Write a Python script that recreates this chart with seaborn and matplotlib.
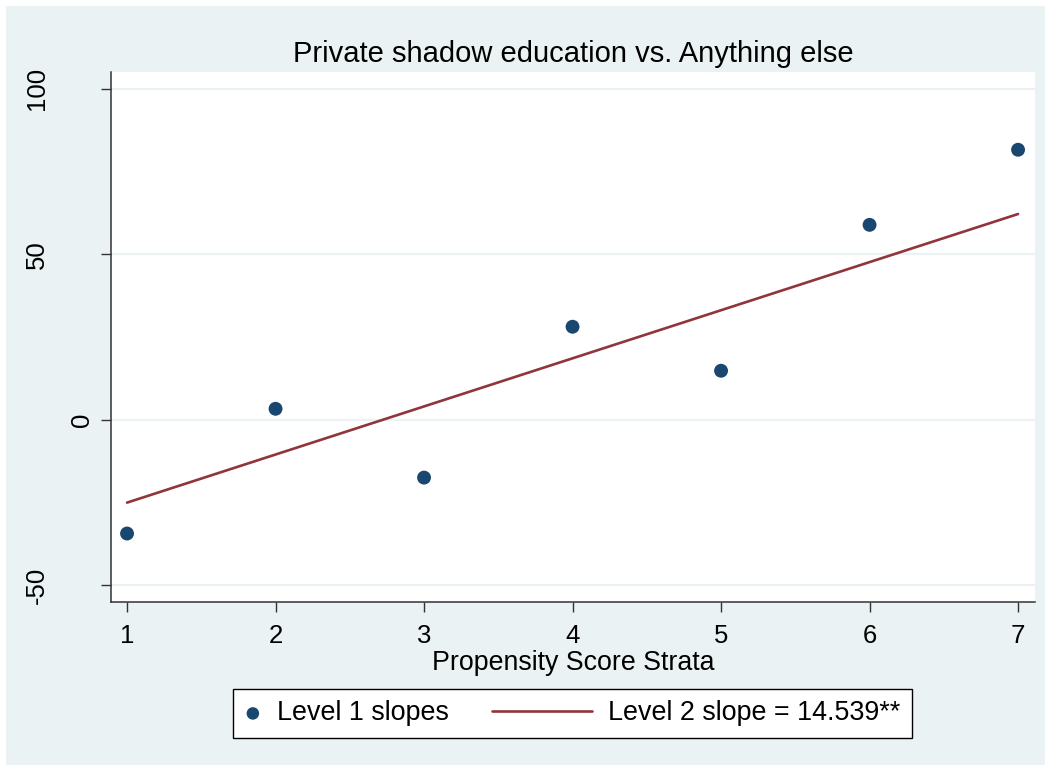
import matplotlib
matplotlib.use("Agg")
import matplotlib.pyplot as plt
import matplotlib.transforms as mtransforms
import seaborn as sns
import pandas as pd
from matplotlib.patches import Rectangle
from matplotlib.lines import Line2D
from matplotlib.legend_handler import HandlerBase

# data
strata = [1, 2, 3, 4, 5, 6, 7]
level1_slopes = [-34.4, 3.3, -17.5, 28.1, 14.8, 58.9, 81.6]
level2_intercept = -39.6
level2_slope = 14.539
line_x = [1, 7]
yticks = [-50, 0, 50, 100]

title = "Private shadow education vs. Anything else"
xlabel = "Propensity Score Strata"
label_pts = "Level 1 slopes"
label_line = "Level 2 slope = 14.539**"

navy = "#1a476f"
maroon = "#90353b"
bg = "#eaf2f3"


class LongLineHandler(HandlerBase):
    # legend key line that reaches further left than the marker key
    def create_artists(self, legend, orig_handle, xdescent, ydescent,
                       width, height, fontsize, trans):
        ext = 3.1 * fontsize
        y = height / 2 - ydescent
        ln = Line2D([-xdescent - ext, -xdescent + width], [y, y],
                    color=orig_handle.get_color(), lw=orig_handle.get_linewidth())
        ln.set_transform(trans)
        return [ln]


sns.set_style("white")
plt.rcParams["font.family"] = ["Liberation Sans", "DejaVu Sans"]
plt.rcParams["text.color"] = "black"
plt.rcParams["axes.labelcolor"] = "black"

fig = plt.figure(figsize=(10.51, 7.71), dpi=100, facecolor="white")
fig.patches.append(Rectangle((6 / 1051, 6 / 771), 1039 / 1051, 759 / 771,
                             transform=fig.transFigure, facecolor=bg,
                             edgecolor="none", zorder=-10))
ax = fig.add_axes([111 / 1051, 1 - 602 / 771, 924 / 1051, 530 / 771])

pts = pd.DataFrame({"strata": strata, "slope": level1_slopes})
fit = pd.DataFrame({"strata": line_x,
                    "fit": [level2_intercept + level2_slope * x for x in line_x]})

for y in yticks:
    ax.axhline(y, color=bg, lw=1.6, zorder=0)

sns.lineplot(data=fit, x="strata", y="fit", ax=ax, color=maroon, lw=1.9,
             label=label_line, zorder=2)
sns.scatterplot(data=pts, x="strata", y="slope", ax=ax, color=navy, s=100,
                edgecolor="none", label=label_pts, zorder=3)

ax.set_xlim(0.892, 7.114)
ax.set_ylim(-55.1, 105.1)
ax.set_xticks(strata)
ax.set_yticks(yticks)
ax.set_yticklabels([str(v) for v in yticks], rotation=90, va="center")
ax.tick_params(axis="both", which="both", direction="out", length=7.5, width=1,
               color="#333333", labelsize=18.5, labelcolor="black",
               bottom=True, left=True)
ax.tick_params(axis="y", pad=37)
ax.tick_params(axis="x", pad=8)
for s in ["top", "right"]:
    ax.spines[s].set_visible(False)
for s in ["left", "bottom"]:
    ax.spines[s].set_color("#333333")
    ax.spines[s].set_linewidth(1.1)

# the short "0" label sits closer to the axis in the reference
shift = mtransforms.ScaledTranslation(45 / 100, 0, fig.dpi_scale_trans)
for lab in ax.get_yticklabels():
    if lab.get_text() == "0":
        lab.set_transform(lab.get_transform() + shift)

ax.set_title(title, fontsize=21, pad=7, color="black")
ax.set_xlabel(xlabel, fontsize=19.3, labelpad=2)
ax.set_ylabel("")

h, l = ax.get_legend_handles_labels()
h_pts = h[l.index(label_pts)]
h_line = h[l.index(label_line)]
ax.legend_.remove()
leg = fig.legend([h_pts, h_line], [label_pts, label_line],
                 loc="center", bbox_to_anchor=(572.5 / 1051, 1 - 713.5 / 771),
                 ncol=2, frameon=True, fancybox=False, edgecolor="black",
                 framealpha=1, fontsize=19.4, handlelength=0.6,
                 columnspacing=4.7, handletextpad=0.6, borderpad=0.43,
                 markerscale=0.9, handler_map={h_line: LongLineHandler()})
leg.get_frame().set_linewidth(1.0)

fig.savefig("out.png", dpi=100, facecolor="white")
